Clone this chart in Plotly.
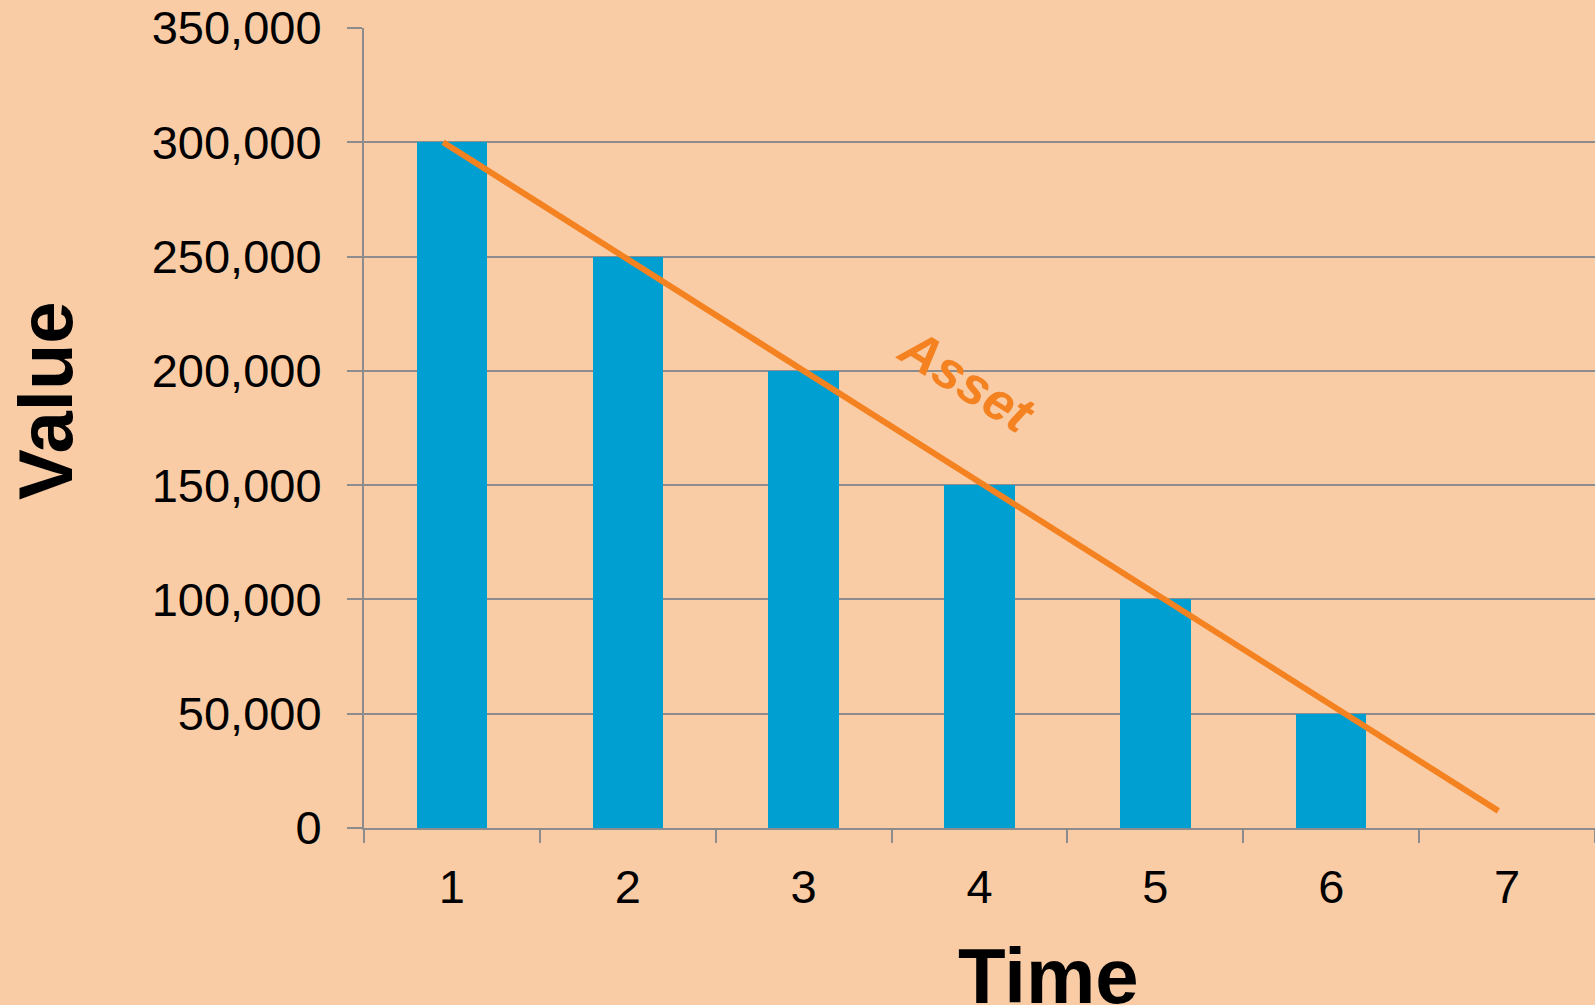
import plotly.graph_objects as go

# Book value of an asset over time
periods = [1, 2, 3, 4, 5, 6, 7]
period_labels = ["1", "2", "3", "4", "5", "6", "7"]
values = [300000, 250000, 200000, 150000, 100000, 50000, 0]

# Straight-line depreciation trend drawn across the bars
trend_x = [0.95, 6.95]
trend_y = [300000, 7500]

y_ticks = [0, 50000, 100000, 150000, 200000, 250000, 300000, 350000]
y_tick_labels = ["0", "50,000", "100,000", "150,000", "200,000", "250,000", "300,000", "350,000"]

BG = "#F9CCA6"
BAR = "#009FD1"
ORANGE = "#F48220"
GRID = "#8C8C8C"
FONT = "Liberation Sans"

fig = go.Figure()

fig.add_trace(go.Bar(
    x=periods, y=values, width=0.4,
    marker=dict(color=BAR, line=dict(width=0)),
    showlegend=False, hoverinfo="skip",
))

fig.add_trace(go.Scatter(
    x=trend_x, y=trend_y, mode="lines",
    line=dict(color=ORANGE, width=6),
    showlegend=False, hoverinfo="skip",
))

fig.update_layout(
    width=1595, height=1005,
    margin=dict(l=364, r=0, t=28, b=177),
    paper_bgcolor=BG, plot_bgcolor=BG,
    font=dict(family=FONT, color="black"),
    bargap=0,
    xaxis=dict(
        range=[0.5, 7.5], tickvals=periods, ticktext=period_labels,
        ticks="", showgrid=False, zeroline=False,
        showline=True, linecolor=GRID, linewidth=2,
        tickfont=dict(size=47, family=FONT, color="black"),
        ticklabelstandoff=17,
    ),
    xaxis2=dict(
        overlaying="x", matches="x", range=[0.5, 7.5],
        tickvals=[0.5, 1.5, 2.5, 3.5, 4.5, 5.5, 6.5, 7.5],
        ticks="outside", ticklen=14, tickwidth=2, tickcolor=GRID,
        showticklabels=False, showgrid=False, zeroline=False, showline=False,
        side="bottom",
    ),
    yaxis=dict(
        range=[0, 350000], tickvals=y_ticks, ticktext=y_tick_labels,
        ticks="outside", ticklen=15, tickwidth=2, tickcolor=GRID,
        showgrid=True, gridcolor=GRID, gridwidth=2,
        zeroline=False, showline=True, linecolor=GRID, linewidth=2,
        tickfont=dict(size=47, family=FONT, color="black"),
        ticklabelstandoff=16,
    ),
)

# Invisible trace that anchors the boundary tick axis
fig.add_trace(go.Scatter(x=[1], y=[0], xaxis="x2", mode="markers",
                         marker=dict(opacity=0), showlegend=False, hoverinfo="skip"))

fig.add_annotation(
    text="<b>Time</b>", xref="paper", yref="paper",
    x=(1048 - 364) / 1231, y=(828 - 930) / 800,
    xanchor="center", yanchor="top", showarrow=False,
    font=dict(size=78, family=FONT, color="black"),
)
fig.add_annotation(
    text="<b>Value</b>", xref="paper", yref="paper",
    x=(45 - 364) / 1231, y=(828 - 401) / 800,
    xanchor="center", yanchor="middle", textangle=-90, showarrow=False,
    font=dict(size=76, family=FONT, color="black"),
)
fig.add_annotation(
    text="<b><i>Asset</i></b>", xref="x", yref="y",
    x=3.93, y=196000, textangle=32, showarrow=False,
    font=dict(size=53, family=FONT, color=ORANGE),
)

fig.write_html("out.html")
